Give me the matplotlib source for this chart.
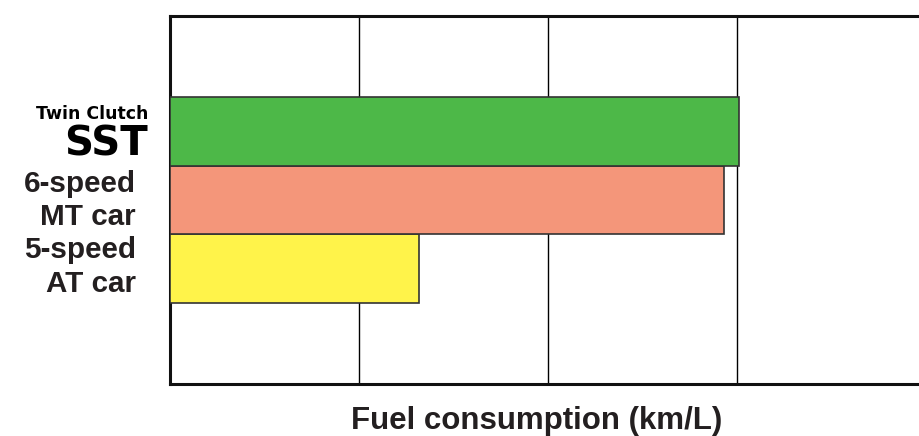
import matplotlib
matplotlib.use("Agg")
import matplotlib.pyplot as plt

# Data
categories = ["5-speed\nAT car", "6-speed\nMT car", "SST"]
values = [1.32, 2.93, 3.01]          # relative units (gridline = 1)
colors = ["#fff34a", "#f4967a", "#4db848"]
xlabel = "Fuel consumption (km/L)"

W, H = 919, 436
fig = plt.figure(figsize=(W / 100, H / 100), dpi=100)
ax = fig.add_axes([170 / W, (H - 384) / H, 756 / W, 368 / H])

ypos = list(range(len(values)))
ax.barh(ypos, values, height=1.0, color=colors, edgecolor="#333333",
        linewidth=1.2, zorder=3)

ax.set_xlim(0, 4)
ax.set_ylim(-1.68, 3.68)
ax.set_xticks([1, 2, 3])
ax.set_yticks([])
ax.tick_params(axis="x", length=0, labelbottom=False)
ax.grid(axis="x", color="black", linewidth=1.0, zorder=1)
for s in ["top", "left", "bottom"]:
    ax.spines[s].set_linewidth(2.2)
    ax.spines[s].set_color("#111111")
ax.spines["right"].set_visible(False)

txtc = "#231f20"
fnt = "Liberation Sans"

def px(x, y):
    return x / W, 1 - y / H

# Category labels (two right-aligned lines each)
for label, y_base in [(categories[1], 191.5), (categories[0], 258.5)]:
    lines = label.split("\n")
    fig.text(*px(136, y_base), lines[0], ha="right", va="baseline",
             fontsize=21.3, fontweight="bold", family=fnt, color=txtc)
    fig.text(*px(136, y_base + 33.5), lines[1], ha="right", va="baseline",
             fontsize=21.3, fontweight="bold", family=fnt, color=txtc)

# Twin Clutch SST logo text
fig.text(*px(148, 119), "Twin Clutch", ha="right", va="baseline",
         fontsize=12.5, fontweight="bold", family="DejaVu Sans", color="black")
fig.text(*px(148, 155), categories[2], ha="right", va="baseline",
         fontsize=29, fontweight="bold", family="DejaVu Sans", color="black")

# X label
fig.text(*px(537, 429), xlabel, ha="center", va="baseline",
         fontsize=22.5, fontweight="bold", family=fnt, color=txtc)

fig.savefig("out.png", dpi=100)
